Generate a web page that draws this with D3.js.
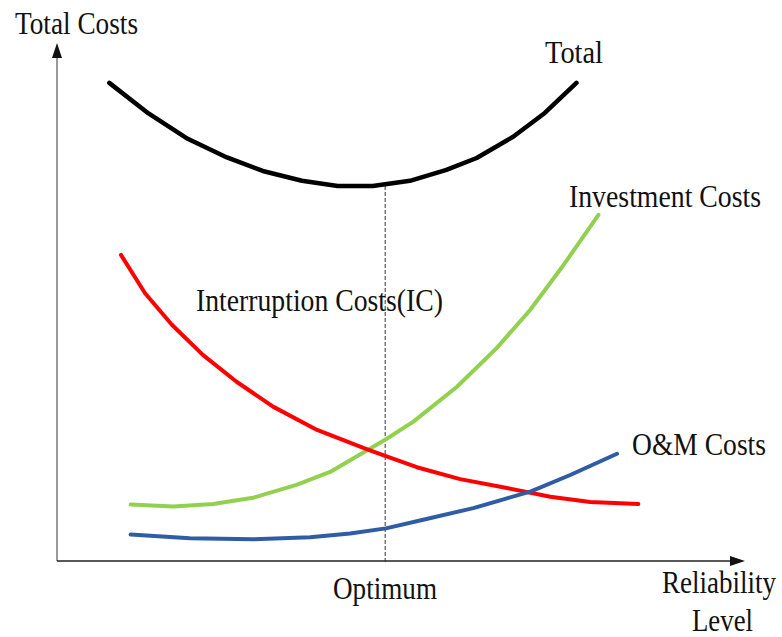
<!DOCTYPE html>
<html>
<head>
<meta charset="utf-8">
<script src="https://cdn.jsdelivr.net/npm/d3@7"></script>
<style>
  html, body { margin: 0; padding: 0; background: #fff; }
  text { font-family: "Liberation Serif", "Times New Roman", serif; fill: #111; }
</style>
</head>
<body>
<svg id="chart" width="782" height="637"></svg>
<script>
// curves, [reliability level, cost] in arbitrary units (0..10)
var totalCurve = [[0.76, 9.23], [1.33, 8.64], [1.90, 8.15], [2.47, 7.79], [2.99, 7.53], [3.56, 7.34],
    [4.08, 7.24], [4.59, 7.24], [5.13, 7.34], [5.66, 7.55], [6.10, 7.78], [6.63, 8.19], [7.09, 8.65], [7.55, 9.23]];
var interruptionCurve = [[0.93, 5.91], [1.28, 5.17], [1.67, 4.56], [2.12, 3.98], [2.61, 3.46], [3.14, 2.98],
    [3.78, 2.53], [4.50, 2.16], [4.77, 2.03], [5.23, 1.81], [5.86, 1.58], [6.54, 1.41], [7.17, 1.24], [7.75, 1.14], [8.45, 1.10]];
var investmentCurve = [[1.07, 1.09], [1.69, 1.05], [2.27, 1.10], [2.85, 1.22], [3.48, 1.47], [3.97, 1.72],
    [4.77, 2.34], [5.18, 2.69], [5.81, 3.36], [6.39, 4.11], [6.88, 4.85], [7.36, 5.71], [7.87, 6.68]];
var omCurve = [[1.07, 0.51], [1.93, 0.44], [2.85, 0.42], [3.68, 0.46], [4.26, 0.53], [4.78, 0.63],
    [5.37, 0.81], [6.05, 1.02], [6.54, 1.21], [6.88, 1.34], [7.46, 1.66], [8.14, 2.07]];
var optimumLevel = 4.77;
var optimumCost = 7.24;

var seriesNames = ["Total", "Investment Costs", "Interruption Costs(IC)", "O&M Costs"];
var seriesColors = ["#000000", "#92d050", "#ff0000", "#2e5da6"];

var svg = d3.select("#chart");

var x = d3.scaleLinear().domain([0, 10]).range([57, 745]);
var y = d3.scaleLinear().domain([0, 10]).range([561, 43]);

var line = d3.line()
    .x(function(d) { return x(d[0]); })
    .y(function(d) { return y(d[1]); });

// axes with arrow heads
svg.append("line")
    .attr("x1", x(0)).attr("y1", y(0))
    .attr("x2", x(0)).attr("y2", y(10) + 12)
    .attr("stroke", "#777").attr("stroke-width", 1.5);
svg.append("path")
    .attr("d", "M" + x(0) + "," + y(10) + "l-5,15h10z")
    .attr("fill", "#111");
svg.append("line")
    .attr("x1", x(0)).attr("y1", y(0))
    .attr("x2", x(10) - 12).attr("y2", y(0))
    .attr("stroke", "#222").attr("stroke-width", 1.5);
svg.append("path")
    .attr("d", "M" + x(10) + "," + y(0) + "l-15,-5v10z")
    .attr("fill", "#111");

// optimum marker
svg.append("line")
    .attr("x1", x(optimumLevel)).attr("x2", x(optimumLevel))
    .attr("y1", y(optimumCost)).attr("y2", y(0) + 3)
    .attr("stroke", "#333").attr("stroke-width", 1)
    .attr("stroke-dasharray", "4,2");

var curves = [totalCurve, investmentCurve, interruptionCurve, omCurve];
svg.selectAll(".curve")
    .data(curves)
    .enter().append("path")
    .attr("class", "curve")
    .attr("d", line)
    .attr("fill", "none")
    .attr("stroke", function(d, i) { return seriesColors[i]; })
    .attr("stroke-width", function(d, i) { return i === 0 ? 4.5 : 4; })
    .attr("stroke-linecap", "round")
    .attr("stroke-linejoin", "round");

// labels: [text, left, baseline, width]
var labels = [
    ["Total Costs", 15, 34, 123],
    [seriesNames[0], 545, 63, 58],
    [seriesNames[1], 569, 207, 192],
    [seriesNames[2], 196, 311, 247],
    [seriesNames[3], 632, 455, 134],
    ["Optimum", 333, 599, 104],
    ["Reliability", 662, 593, 114],
    ["Level", 692, 631, 61]
];

svg.selectAll(".lbl")
    .data(labels)
    .enter().append("text")
    .attr("class", "lbl")
    .attr("x", function(d) { return d[1]; })
    .attr("y", function(d) { return d[2]; })
    .attr("textLength", function(d) { return d[3]; })
    .attr("lengthAdjust", "spacingAndGlyphs")
    .style("font-size", "31px")
    .text(function(d) { return d[0]; });
</script>
</body>
</html>
